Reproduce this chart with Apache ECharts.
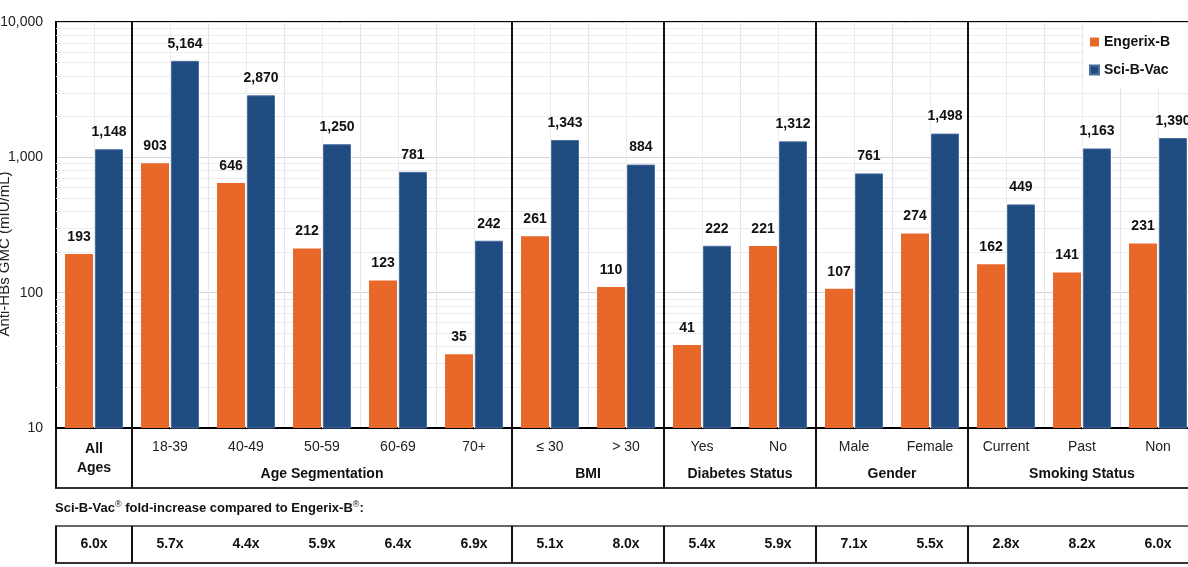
<!DOCTYPE html>
<html>
<head>
<meta charset="utf-8">
<script src="https://cdn.jsdelivr.net/npm/echarts@6/dist/echarts.min.js"></script>
<style>
  html, body { margin: 0; padding: 0; background: #fff; }
  #main { width: 1188px; height: 567px; }
</style>
</head>
<body>
<div id="main"></div>
<script>
// data
var categories = ['All Ages', '18-39', '40-49', '50-59', '60-69', '70+', '≤ 30', '> 30', 'Yes', 'No', 'Male', 'Female', 'Current', 'Past', 'Non'];
var engerixB = [193, 903, 646, 212, 123, 35, 261, 110, 41, 221, 107, 274, 162, 141, 231];
var sciBVac = [1148, 5164, 2870, 1250, 781, 242, 1343, 884, 222, 1312, 761, 1498, 449, 1163, 1390];
var foldIncrease = ['6.0x', '5.7x', '4.4x', '5.9x', '6.4x', '6.9x', '5.1x', '8.0x', '5.4x', '5.9x', '7.1x', '5.5x', '2.8x', '8.2x', '6.0x'];
var groupNames = ['', 'Age Segmentation', 'BMI', 'Diabetes Status', 'Gender', 'Smoking Status'];
var groupStarts = [0, 1, 6, 8, 10, 12, 15];

var FONT = '"Liberation Sans", Arial, sans-serif';
var chart = echarts.init(document.getElementById('main'));

// light gridlines: log minor lines + category centres
var minorLines = [];
[10, 100, 1000].forEach(function (d) {
  for (var k = 2; k <= 9; k++) minorLines.push({ yAxis: d * k });
});
categories.forEach(function (c, i) {
  minorLines.push({ xAxis: i + 0.5 });
});

function fmt(v) { return Number(v).toLocaleString('en-US'); }

var option = {
  animation: false,
  textStyle: { fontFamily: FONT },
  grid: {
    left: 56, top: 22, width: 1140, height: 406,
    outerBoundsMode: 'none', containLabel: false,
    show: true, borderColor: '#000', borderWidth: 2, backgroundColor: 'transparent'
  },
  legend: {
    data: ['Engerix-B', 'Sci-B-Vac'],
    orient: 'vertical',
    left: 1084, top: 23, z: 20,
    padding: [12, 30, 10, 5],
    itemGap: 14, itemWidth: 9, itemHeight: 9,
    icon: 'rect',
    backgroundColor: '#fff',
    textStyle: { fontSize: 14, fontWeight: 'bold', color: '#111', fontFamily: FONT }
  },
  xAxis: [
    {
      type: 'category',
      data: categories,
      axisLine: { lineStyle: { color: '#000', width: 2 } },
      axisTick: { show: false },
      splitLine: { show: true, interval: 0, lineStyle: { color: '#e6e6e6' } },
      axisLabel: {
        interval: 0, margin: 12, fontSize: 14, color: '#222', fontFamily: FONT,
        formatter: function (v, i) { return i === 0 ? '{b|All}\n{b|Ages}' : v; },
        rich: { b: { fontWeight: 'bold', fontSize: 14, lineHeight: 19, color: '#111', fontFamily: FONT } }
      }
    },
    { type: 'value', min: 0, max: 15, show: false }
  ],
  yAxis: {
    type: 'log', logBase: 10, min: 10, max: 10000,
    name: 'Anti-HBs GMC (mIU/mL)',
    nameLocation: 'middle', nameGap: 44, nameMoveOverlap: false,
    nameTextStyle: { fontSize: 15, color: '#222', fontFamily: FONT, padding: [0, 58, 0, 0] },
    axisLine: { show: true, lineStyle: { color: '#000', width: 2 } },
    axisTick: { show: false },
    axisLabel: { fontSize: 14, color: '#222', margin: 13, fontFamily: FONT, formatter: fmt },
    splitLine: { lineStyle: { color: '#d6d6d6' } }
  },
  series: [
    {
      name: 'grid', type: 'line', xAxisIndex: 1, data: [[0, 10]],
      showSymbol: false, silent: true, z: 0, lineStyle: { opacity: 0 },
      markLine: {
        silent: true, symbol: 'none', animation: false, z: 1,
        label: { show: false },
        lineStyle: { color: '#ececec', type: 'solid', width: 1 },
        data: minorLines
      }
    },
    {
      name: 'Engerix-B', type: 'bar', data: engerixB,
      barWidth: 28, barGap: '7%', z: 10,
      itemStyle: { color: '#E8682A' },
      label: { show: true, position: 'top', distance: 10, fontWeight: 'bold', fontSize: 14, color: '#111', fontFamily: FONT,
        formatter: function (p) { return fmt(p.value); } }
    },
    {
      name: 'Sci-B-Vac', type: 'bar', data: sciBVac,
      barWidth: 28, z: 10,
      itemStyle: { color: '#1F4B80', borderColor: '#4a6fa0', borderWidth: 1 },
      label: { show: true, position: 'top', distance: 10, fontWeight: 'bold', fontSize: 14, color: '#111', fontFamily: FONT,
        formatter: function (p) { return fmt(p.value); } }
    }
  ]
};
chart.setOption(option);

// table under the plot, placed from the axes
function px(v) { return chart.convertToPixel({ xAxisIndex: 1 }, v); }
var yTop = chart.convertToPixel({ yAxisIndex: 0 }, 10000);
var yBase = chart.convertToPixel({ yAxisIndex: 0 }, 10);
var rowBottom = yBase + 60;
var foldTop = yBase + 98;
var foldBottom = yBase + 135;

function hline(y, w) {
  return { type: 'line', z: 10, shape: { x1: 55, y1: y, x2: 1188, y2: y }, style: { stroke: '#333', lineWidth: w } };
}
function vline(x, y1, y2) {
  return { type: 'line', z: 10, shape: { x1: x, y1: y1, x2: x, y2: y2 }, style: { stroke: '#111', lineWidth: 2 } };
}
function label(x, y, text, size, bold, align) {
  return {
    type: 'text', z: 10, x: x, y: y,
    style: {
      text: text, fill: '#111',
      font: (bold ? 'bold ' : '') + size + 'px ' + FONT,
      align: align || 'center', verticalAlign: 'middle',
      textAlign: align || 'center', textVerticalAlign: 'middle'
    }
  };
}

var g = [];
g.push(hline(rowBottom, 2));
g.push(hline(foldTop, 1.5));
g.push(hline(foldBottom, 2));
g.push(vline(px(0), yBase, rowBottom));
g.push(vline(px(0), foldTop, foldBottom));
for (var k = 1; k < groupStarts.length - 1; k++) {
  var gx = Math.round(px(groupStarts[k]));
  g.push(vline(gx, yTop, rowBottom));
  g.push(vline(gx, foldTop, foldBottom));
}
for (var k = 0; k < groupNames.length; k++) {
  if (!groupNames[k]) continue;
  var cx = (px(groupStarts[k]) + px(groupStarts[k + 1])) / 2;
  g.push(label(cx, yBase + 46, groupNames[k], 14, true));
}
foldIncrease.forEach(function (t, i) {
  g.push(label(px(i + 0.5), (foldTop + foldBottom) / 2, t, 14, true));
});
g.push({
  type: 'text', z: 10, x: 55, y: yBase + 80,
  style: {
    text: '{t|Sci-B-Vac}{s|®}{t| fold-increase compared to Engerix-B}{s|®}{t|:}',
    align: 'left', verticalAlign: 'middle', textAlign: 'left', textVerticalAlign: 'middle',
    rich: {
      t: { fontSize: 13, fontWeight: 'bold', fontFamily: FONT, fill: '#111', lineHeight: 16 },
      s: { fontSize: 9, fontFamily: FONT, fill: '#111', verticalAlign: 'top', lineHeight: 9 }
    }
  }
});
chart.setOption({ graphic: g });
</script>
</body>
</html>
